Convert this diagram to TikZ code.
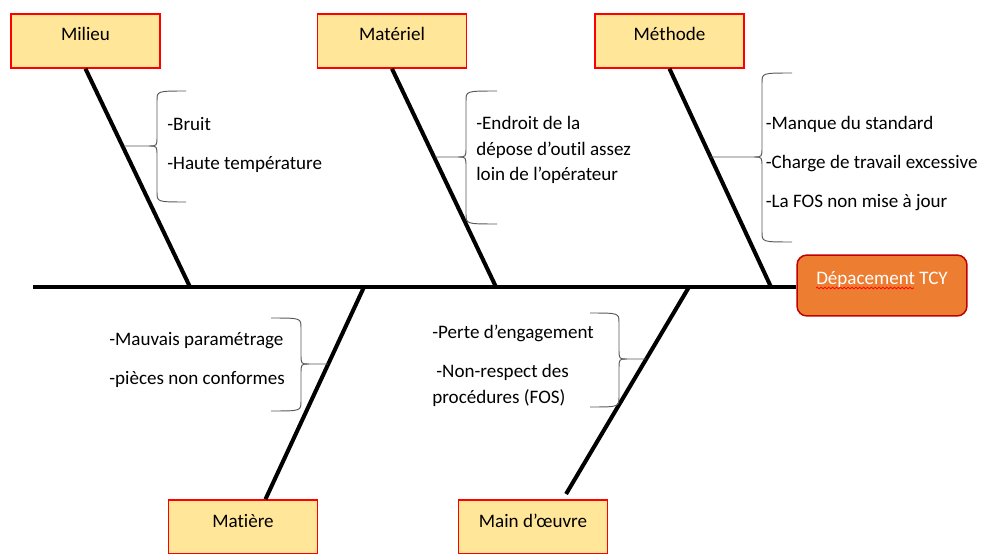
\documentclass[tikz,border=0pt]{standalone}
\usepackage{fontspec}
\setmainfont{Carlito}[Ligatures=NoCommon]
\definecolor{fbYellow}{HTML}{FFE699}
\definecolor{fbRed}{HTML}{FF0000}
\definecolor{fbOrange}{HTML}{ED7D31}
\definecolor{fbDark}{HTML}{C00000}
\definecolor{fbGrey}{HTML}{595959}
\usetikzlibrary{decorations.pathmorphing}

\begin{document}
\begin{tikzpicture}[
  x=0.02cm,y=-0.02cm,
  font=\fontsize{10.85}{13}\selectfont,
  cause/.style={draw=fbRed,fill=fbYellow,line width=0.85pt,minimum width=2.98cm,
                inner sep=0pt,text height=0.54cm,text depth=0.54cm},
  effect/.style={draw=fbDark,fill=fbOrange,line width=0.85pt,rounded corners=0.2cm,
                 minimum width=3.4cm,inner sep=0pt,text height=0.58cm,text depth=0.64cm,
                 text=white},
  bone/.style={line width=2.3pt,black},
  brc/.style={draw=fbGrey,line width=0.55pt},
  item/.style={anchor=base west,inner sep=0pt}
]
\useasboundingbox (0,0) rectangle (981,554);

% head and spine
\node[effect] (effect) at (882,285.5) {Dépacement TCY};
\draw[fbRed,line width=0.4pt,decorate,decoration={snake,amplitude=0.5pt,segment length=2.2pt}]
  (816,288) -- (914,288);
\coordinate (tail) at (33,287);
\draw[bone] (tail) -- (tail -| effect.west);

% causes
\node[cause] (milieu)   at (85.5,41)  {Milieu};
\node[cause] (materiel) at (392,41)   {Matériel};
\node[cause] (methode)  at (669.5,41) {Méthode};
\node[cause] (matiere)  at (243,527)  {Matière};
\node[cause] (main)     at (533,527)  {Main d’œuvre};

\coordinate (jmil) at (190,287);
\coordinate (jmat) at (496,287);
\coordinate (jmet) at (771,287);
\coordinate (jmie) at (364,287);
\coordinate (jmai) at (689,287);

\draw[bone] (milieu.south) -- (jmil);
\draw[bone] (materiel.south) -- (jmat);
\draw[bone] (methode.south) -- (jmet);
\draw[bone] (jmie) -- (matiere.51);
\draw[bone] (jmai) -- ([yshift=3]main.40);

% Milieu
\draw[brc] (186,91) .. controls (157,91) .. (157,101) -- (157,136) .. controls (157,146) .. (149,146) -- (124,146);
\draw[brc] (149,146) .. controls (157,146) .. (157,156) -- (157,192) .. controls (157,202) .. (186,202);
\node[item] (bruit) at (167,131) {-Bruit};
\node[item] (haute) at (167,170) {-Haute température};

% Matériel
\draw[brc] (497,91) .. controls (466,91) .. (466,101) -- (466,147) .. controls (466,157) .. (458,157) -- (435,157);
\draw[brc] (458,157) .. controls (466,157) .. (466,167) -- (466,214) .. controls (466,224) .. (497,224);
\node[item] (endroit1) at (476,129.5) {-Endroit de la};
\node[item] (endroit2) at (476,155)   {dépose d’outil assez};
\node[item] (endroit3) at (476,180.5) {loin de l’opérateur};

% Méthode
\draw[brc] (792,73) .. controls (762,73) .. (762,83) -- (762,147) .. controls (762,157) .. (754,157) -- (710,157);
\draw[brc] (754,157) .. controls (762,157) .. (762,167) -- (762,232) .. controls (762,242) .. (792,242);
\node[item] (manque) at (765.5,129.5) {-Manque du standard};
\node[item] (charge) at (765.5,168.5) {-Charge de travail excessive};
\node[item] (fos)    at (765.5,207.5) {-La FOS non mise à jour};

% Matière
\draw[brc] (271,318) .. controls (301,318) .. (301,328) -- (301,354) .. controls (301,364) .. (309,364) -- (328,364);
\draw[brc] (309,364) .. controls (301,364) .. (301,374) -- (301,401) .. controls (301,411) .. (271,411);
\node[item] (mauvais) at (109,345.5) {-Mauvais paramétrage};
\node[item] (pieces)  at (109,384.5) {-pièces non conformes};

% Main d'oeuvre
\draw[brc] (590,313) .. controls (619,313) .. (619,323) -- (619,349) .. controls (619,359) .. (627,359) -- (646,359);
\draw[brc] (627,359) .. controls (619,359) .. (619,369) -- (619,397) .. controls (619,407) .. (590,407);
\node[item] (perte)   at (432,338.5) {-Perte d’engagement};
\node[item] (respect) at (436,377.5) {-Non-respect des};
\node[item] (proc)    at (432,403.5) {procédures (FOS)};
\end{tikzpicture}
\end{document}
